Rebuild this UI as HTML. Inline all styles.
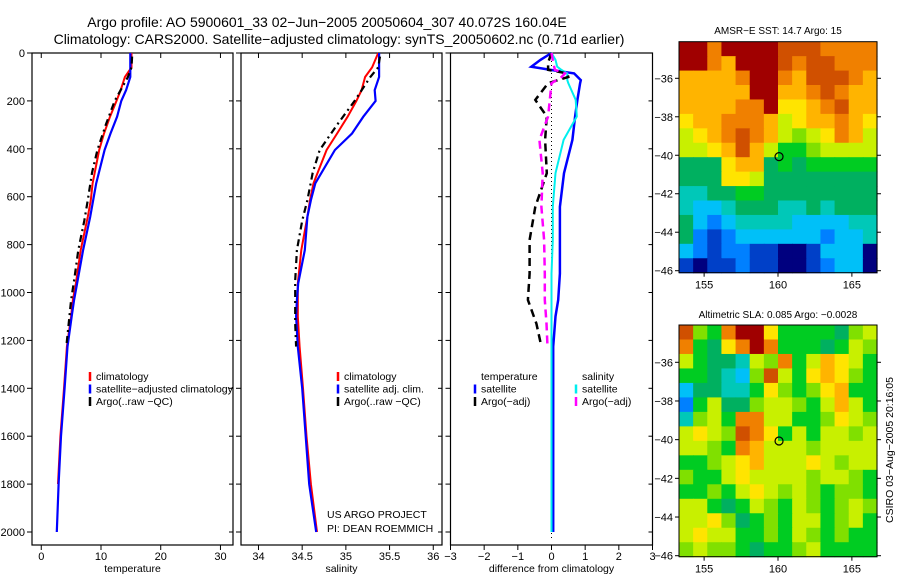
<!DOCTYPE html>
<html><head><meta charset="utf-8">
<style>
html,body{margin:0;padding:0;background:#fff;}
svg{display:block;font-family:"Liberation Sans",sans-serif;}
</style></head>
<body>
<svg id="chart" width="900" height="580" viewBox="0 0 900 580" xmlns="http://www.w3.org/2000/svg">
<text x="327" y="27" font-size="14" text-anchor="middle">Argo profile: AO 5900601_33 02−Jun−2005 20050604_307 40.072S 160.04E</text>
<text x="339" y="44" font-size="14" text-anchor="middle">Climatology: CARS2000. Satellite−adjusted climatology: synTS_20050602.nc (0.71d earlier)</text>
<g id="plots"></g>
<text x="327" y="518" font-size="10.5">US ARGO PROJECT</text>
<text x="327" y="532" font-size="10.5">PI: DEAN ROEMMICH</text>
<text x="778" y="34" font-size="10" text-anchor="middle">AMSR−E SST: 14.7 Argo: 15</text>
<text x="778" y="318" font-size="10" text-anchor="middle">Altimetric SLA: 0.085 Argo: −0.0028</text>
<text transform="translate(893,450) rotate(-90)" font-size="10.5" text-anchor="middle">CSIRO 03−Aug−2005 20:16:05</text>
</svg>
<script>
// ---- profile data (depth in m) ----
const depthTop = [0, 60, 100, 155, 200, 266, 336, 405, 544, 614, 684, 823, 962, 1031, 1100, 1226, 1400, 1600, 1800, 2000];
const tempClim = [15.1, 15.1, 14.0, 13.3, 12.6, 11.5, 10.5, 9.7, 8.6, 8.3, 7.8, 6.6, 5.8, 5.3, 5.0, 4.3, 3.8, 3.2, 2.8, null];
const tempSat  = [14.9, 14.9, 14.9, 14.2, 13.4, 12.7, 11.6, 10.6, 9.2, 8.7, 8.2, 7.0, 6.0, 5.5, 5.1, 4.4, 3.9, 3.3, 2.9, 2.6];
const depthArgo = [15, 60, 100, 200, 300, 405, 500, 614, 700, 823, 950, 1031, 1130, 1226];
const tempArgo  = [15.2, 15.1, 14.5, 12.3, 10.8, 9.4, 8.5, 7.8, 7.2, 6.2, 5.5, 5.0, 4.6, 4.2];
const salClim = [35.37, 35.30, 35.22, 35.18, 35.12, 35.02, 34.90, 34.78, 34.63, 34.59, 34.56, 34.49, 34.45, 34.45, 34.45, 34.47, 34.51, 34.55, 34.60, 34.67];
const salSat  = [35.38, 35.38, 35.38, 35.33, 35.34, 35.20, 35.07, 34.875, 34.65, 34.60, 34.56, 34.53, 34.455, 34.44, 34.43, 34.45, 34.50, 34.54, 34.58, 34.66];
const salArgo = [35.39, 35.37, 35.28, 35.10, 34.90, 34.70, 34.62, 34.56, 34.50, 34.44, 34.42, 34.42, 34.42, 34.43];
const depthDiff = [0, 29, 57, 71, 85, 113, 126, 196, 265, 363, 502, 642, 781, 921, 1031, 1100, 1226, 1400, 1600, 1800, 2000];
const dTempSat = [0.0, -0.33, -0.6, 0.0, 0.67, 0.87, 0.85, 0.77, 0.70, 0.62, 0.37, 0.25, 0.25, 0.25, 0.2, 0.12, 0.05, 0.05, 0.05, 0.05, 0.05];
const dSalSat  = [0.0, 0.12, 0.17, 0.3, 0.47, 0.47, 0.5, 0.72, 0.75, 0.36, 0.12, 0.04, 0.04, 0.0, 0.0, 0.0, 0.0, 0.0, 0.0, 0.0, 0.0];
const depthDA = [0, 40, 70, 85, 100, 126, 196, 265, 363, 502, 642, 781, 921, 1031, 1130, 1226];
const dTempArgo = [0.0, -0.1, -0.1, 0.47, 0.5, -0.1, -0.48, -0.14, -0.19, -0.14, -0.48, -0.65, -0.65, -0.7, -0.45, -0.3];
const dSalArgo  = [0.0, 0.05, 0.1, 0.4, 0.3, 0.0, -0.05, -0.1, -0.36, -0.26, -0.3, -0.22, -0.2, -0.2, -0.15, -0.12];
const depthTicks = [0, 200, 400, 600, 800, 1000, 1200, 1400, 1600, 1800, 2000];
const tempTicks = [0, 10, 20, 30];
const salTicks = ["34", "34.5", "35", "35.5", "36"];
const diffTicks = [-3, -2, -1, 0, 1, 2, 3];
// ---- map data (14 cols x 16 rows, colour index chars) ----
const sstRows = ["ddbddddcccbbbb","ddbadddcbccbbb","aaaabddbacccba","aaaaaddaabcbaa","aaaabbd99abcaa","9aabbba89aaba9","89abcba8789ba8","889aca86678888","5559aa56566666","55599855555555","44556655555555","43345554454555","53234444333344","52123333332334","32122110013330","10112110012330"];
const slaRows = ["c76bdd96666578","b659bdb6665687","8655487b68a986","665437c869a976","35544697679a66","26855788768a86","4786bb88667987","8987cb96868878","8876ba88878888","66789a88898788","76689888878876","66768987876776","88656876876787","88975676886786","89886676876766","78776566786666"];
const mapLonTicks = [155, 160, 165];
const mapLatTicks = [-36, -38, -40, -42, -44, -46];
const argoLon = 160.07, argoLat = -40.07;

const NS = "http://www.w3.org/2000/svg";
const root = document.getElementById('plots');
function mk(tag, attrs, parent) {
  const e = document.createElementNS(NS, tag);
  for (const k in attrs) e.setAttribute(k, attrs[k]);
  (parent || root).appendChild(e);
  return e;
}
const yTop = 53, yScale = (532 - 53) / 2000;
const yD = d => yTop + d * yScale;
const panels = [
  {name:'temperature', x0:32, x1:233, v0:-1.55, v1:32.1, label:'temperature'},
  {name:'salinity', x0:241, x1:442, v0:33.8, v1:36.1, label:'salinity'},
  {name:'difference', x0:450.5, x1:652.5, v0:-3, v1:3, label:'difference from climatology'}
];
function xf(p) { return v => p.x0 + (v - p.v0) / (p.v1 - p.v0) * (p.x1 - p.x0); }
const bottom = 545;
panels.forEach((p, i) => {
  const g = mk('g', {});
  
  
  const r = mk('rect', {x:p.x0, y:yTop, width:p.x1-p.x0, height:bottom-yTop, fill:'none', stroke:'#000', 'stroke-width':1.2}, g);
  
  
  const X = xf(p);
  const ticks = i === 0 ? tempTicks : i === 1 ? salTicks.map(Number) : diffTicks;
  ticks.forEach((t, k) => {
    const x = X(t);
    mk('line', {x1:x, x2:x, y1:yTop, y2:yTop+5, stroke:'#000'}, g);
    mk('line', {x1:x, x2:x, y1:bottom, y2:bottom+5, stroke:'#000'}, g);
    const lab = i === 1 ? salTicks[k] : (t < 0 ? '−' + Math.abs(t) : String(t));
    const tx = mk('text', {x:x, y:bottom+15, 'font-size':11, 'text-anchor':'middle'}, g);
    tx.textContent = lab;
    
    
  });
  const xl = mk('text', {x:(p.x0+p.x1)/2, y:572, 'font-size':10.5, 'text-anchor':'middle'}, g);
  xl.textContent = p.label;
  
  
  depthTicks.forEach(d => {
    const y = yD(d);
    mk('line', {x1:p.x0-5, x2:p.x0, y1:y, y2:y, stroke:'#000'}, g);
    mk('line', {x1:p.x1, x2:p.x1-4, y1:y, y2:y, stroke:'#000'}, g);
    if (i === 0) {
      const t = mk('text', {x:p.x0-7, y:y+4, 'font-size':11, 'text-anchor':'end'}, g);
      t.textContent = String(d);
      
      
    }
  });
});
function series(pi, depths, vals, color, dash, w, name) {
  const X = xf(panels[pi]);
  let d = '';
  let started = false;
  depths.forEach((dep, k) => {
    if (vals[k] === null || vals[k] === undefined) return;
    d += (started ? 'L' : 'M') + X(vals[k]).toFixed(1) + ',' + yD(dep).toFixed(1);
    started = true;
  });
  const path = mk('path', {d:d, fill:'none', stroke:color, 'stroke-width':w, 'stroke-dasharray':dash || 'none'});
  
  
}
const zx = xf(panels[2])(0);
const zl = mk('line', {x1:zx, x2:zx, y1:yTop, y2:yD(2030), stroke:'#000', 'stroke-dasharray':'1 3', 'stroke-width':1});


series(0, depthTop, tempClim, '#f00', null, 2, 'temp-climatology-line');
series(0, depthTop, tempSat, '#00f', null, 2.2, 'temp-satellite-line');
series(0, depthArgo, tempArgo, '#000', '7 4 2 4', 2.2, 'temp-argo-line');
series(1, depthTop, salClim, '#f00', null, 2, 'sal-climatology-line');
series(1, depthTop, salSat, '#00f', null, 2.2, 'sal-satellite-line');
series(1, depthArgo, salArgo, '#000', '7 4 2 4', 2.2, 'sal-argo-line');
series(2, depthDiff, dTempSat, '#00f', null, 2.5, 'diff-temp-satellite-line');
series(2, depthDiff, dSalSat, '#0ee', null, 2, 'diff-sal-satellite-line');
series(2, depthDA, dTempArgo, '#000', '8 5', 2.5, 'diff-temp-argo-line');
series(2, depthDA, dSalArgo, '#f0f', '8 5', 2.5, 'diff-sal-argo-line');

function legend(x, y, items, nm) {
  items.forEach((it, k) => {
    const yy = y + k * 12.5;
    if (it.c) {
      const l = mk('line', {x1:x, x2:x, y1:yy-6, y2:yy+3, stroke:it.c, 'stroke-width':2.5});
      
      
    }
    const t = mk('text', {x:x+6, y:yy+2, 'font-size':10.5});
    t.textContent = it.t;
    
    
  });
}
legend(90, 378, [{c:'#f00',t:'climatology'},{c:'#00f',t:'satellite−adjusted climatology'},{c:'#000',t:'Argo(..raw −QC)'}], 'temp-legend');
legend(338, 378, [{c:'#f00',t:'climatology'},{c:'#00f',t:'satellite adj. clim.'},{c:'#000',t:'Argo(..raw −QC)'}], 'sal-legend');
legend(475, 378, [{c:null,t:'temperature'},{c:'#00f',t:'satellite'},{c:'#000',t:'Argo(−adj)'}], 'diff-temp-legend');
legend(576, 378, [{c:null,t:'salinity'},{c:'#0ee',t:'satellite'},{c:'#f0f',t:'Argo(−adj)'}], 'diff-sal-legend');

// ---- maps ----
const cmap = {'0':'#00007f','1':'#0040c8','2':'#0080ff','3':'#00c0f8','4':'#00c8b8','5':'#00b060','6':'#00cc22','7':'#80e000','8':'#c8f000','9':'#ffe400','a':'#ffb400','b':'#f08000','c':'#d05000','d':'#a00000'};
const lonMin = 153.3, lonMax = 166.7;
function drawMap(rows, mx0, mx1, my0, my1, latAt36, latAt46, name) {
  const g = mk('g', {});
  
  
  const nr = rows.length, nc = 14;
  const cw = (mx1 - mx0) / nc, ch = (my1 - my0) / nr;
  rows.forEach((row, r) => {
    for (let c = 0; c < nc; c++) {
      const ch0 = row[c] || '6';
      mk('rect', {x:(mx0 + c*cw).toFixed(2), y:(my0 + r*ch).toFixed(2), width:(cw+0.6).toFixed(2), height:(ch+0.6).toFixed(2), fill:cmap[ch0] || '#00cc22'}, g);
    }
  });
  mk('rect', {x:mx0, y:my0, width:mx1-mx0, height:my1-my0, fill:'none', stroke:'#000'}, g);
  const lx = v => mx0 + (v - lonMin) / (lonMax - lonMin) * (mx1 - mx0);
  const ly = v => latAt36 + (v + 36) / (-10) * (latAt46 - latAt36);
  mapLonTicks.forEach(t => {
    mk('line', {x1:lx(t), x2:lx(t), y1:my1, y2:my1+4, stroke:'#000'}, g);
    const tx = mk('text', {x:lx(t), y:my1+16, 'font-size':11, 'text-anchor':'middle'}, g);
    tx.textContent = String(t);
    
    
  });
  mapLatTicks.forEach(t => {
    const y = ly(t);
    mk('line', {x1:mx0-4, x2:mx0, y1:y, y2:y, stroke:'#000'}, g);
    mk('line', {x1:mx1, x2:mx1+4, y1:y, y2:y, stroke:'#000'}, g);
    const tx = mk('text', {x:mx0-6, y:y+4, 'font-size':11, 'text-anchor':'end'}, g);
    tx.textContent = '−' + Math.abs(t);
    
    
  });
  const c = mk('circle', {cx:lx(argoLon), cy:ly(argoLat), r:4, fill:'none', stroke:'#000', 'stroke-width':1.2}, g);
  
  
}
drawMap(sstRows, 679, 877, 41.7, 272.7, 78.3, 270.7, 'sst-map');
drawMap(slaRows, 679, 877, 325, 556.7, 362.3, 555.7, 'sla-map');
</script>
</body></html>
